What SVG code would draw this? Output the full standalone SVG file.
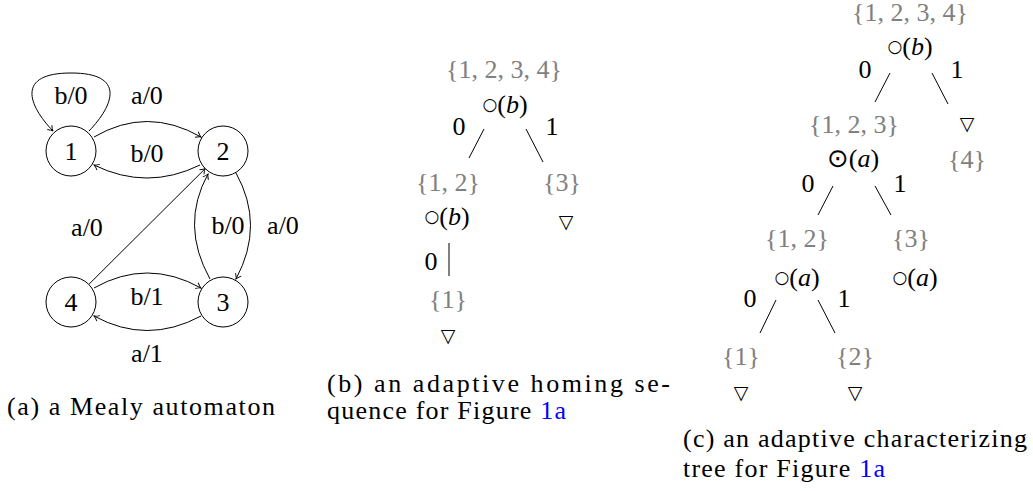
<svg xmlns="http://www.w3.org/2000/svg" width="1033" height="491" viewBox="0 0 1033 491">
<defs>
<style>
text{font-size:26px;fill:#000}
.t{text-anchor:middle}
.c{text-anchor:start}
.g{fill:#808080}
.i{font-style:italic}
.op{font-size:17px}
.od{font-size:26px}
.tri{font-size:19px;text-anchor:middle}
.e{fill:none;stroke:#000;stroke-width:1}
.n{fill:#fff;stroke:#000;stroke-width:1}
.lk{fill:#0000ff}
</style>
<marker id="arr" viewBox="-6 -4 7 8" refX="0" refY="0" markerWidth="7" markerHeight="8" markerUnits="userSpaceOnUse" orient="auto">
<path d="M-5,-3.2 Q-2,-0.6 0,0 Q-2,0.6 -5,3.2" fill="none" stroke="#000" stroke-width="0.9"/>
</marker>
</defs>
<g font-family="Liberation Serif">
<g id="edges-a">
<path class="e" marker-end="url(#arr)" d="M89,131 C114,105 126,73 71,73 C16,73 28,105 53,131"/>
<path class="e" marker-end="url(#arr)" d="M94,137 Q147,106 201,137"/>
<path class="e" marker-end="url(#arr)" d="M200,165 Q147,191 94,165"/>
<path class="e" marker-end="url(#arr)" d="M94,288 Q147,258 201,288"/>
<path class="e" marker-end="url(#arr)" d="M201,316 Q147,345 94,316"/>
<path class="e" marker-end="url(#arr)" d="M88.7,284.5 L205.3,168.5"/>
<path class="e" marker-end="url(#arr)" d="M210,279 Q180,225 208,174"/>
<path class="e" marker-end="url(#arr)" d="M236,173 Q265,225 236,279"/>
<text class="t" x="71" y="104">b/0</text>
<text class="t" x="147" y="104">a/0</text>
<text class="t" x="147" y="162">b/0</text>
<text class="t" x="87" y="236">a/0</text>
<text class="t" x="228" y="234">b/0</text>
<text class="t" x="283" y="234">a/0</text>
<text class="t" x="147" y="305">b/1</text>
<text class="t" x="147" y="362">a/1</text>
</g>
<g id="s1"><circle class="n" cx="71" cy="151" r="25"/><text class="t" x="71" y="160">1</text></g>
<g id="s2"><circle class="n" cx="223" cy="151" r="25"/><text class="t" x="223" y="160">2</text></g>
<g id="s3"><circle class="n" cx="223" cy="302" r="25"/><text class="t" x="223" y="311">3</text></g>
<g id="s4"><circle class="n" cx="71" cy="302" r="25"/><text class="t" x="71" y="311">4</text></g>
<text class="c" x="7" y="415" textLength="268" lengthAdjust="spacing">(a) a Mealy automaton</text>

<g id="edges-b">
<line class="e" x1="484" y1="129" x2="469" y2="158"/>
<line class="e" x1="526" y1="129" x2="543" y2="162"/>
<line class="e" x1="449" y1="243" x2="449" y2="276"/>
<text class="t" x="459" y="135">0</text>
<text class="t" x="552" y="135">1</text>
<text class="t" x="431" y="270">0</text>
</g>
<g id="b-root"><text class="t g" x="504" y="78">{1, 2, 3, 4}</text><text class="t" x="505" y="113"><tspan class="op" font-family="DejaVu Sans" dy="-3">○</tspan><tspan dy="3">(</tspan><tspan class="i">b</tspan>)</text></g>
<g id="b-12"><text class="t g" x="448" y="191">{1, 2}</text><text class="t" x="447" y="225"><tspan class="op" font-family="DejaVu Sans" dy="-3">○</tspan><tspan dy="3">(</tspan><tspan class="i">b</tspan>)</text></g>
<g id="b-3"><text class="t g" x="562" y="191">{3}</text><text class="tri" font-family="DejaVu Sans" x="566" y="228">▽</text></g>
<g id="b-1"><text class="t g" x="448" y="308">{1}</text><text class="tri" font-family="DejaVu Sans" x="448" y="342">▽</text></g>
<text class="c" x="327" y="392" textLength="343" lengthAdjust="spacing">(b) an adaptive homing se-</text>
<text class="c" x="327" y="419" textLength="239" lengthAdjust="spacing">quence for Figure <tspan class="lk">1a</tspan></text>

<g id="edges-c">
<line class="e" x1="890" y1="73" x2="875" y2="102"/>
<line class="e" x1="932" y1="73" x2="948" y2="104"/>
<line class="e" x1="833" y1="186" x2="818" y2="215"/>
<line class="e" x1="875" y1="186" x2="891" y2="215"/>
<line class="e" x1="776" y1="300" x2="760" y2="333"/>
<line class="e" x1="818" y1="300" x2="835" y2="333"/>
<text class="t" x="865" y="78">0</text>
<text class="t" x="957" y="78">1</text>
<text class="t" x="808" y="192">0</text>
<text class="t" x="900" y="192">1</text>
<text class="t" x="750" y="307">0</text>
<text class="t" x="844" y="307">1</text>
</g>
<g id="c-root"><text class="t g" x="910" y="21">{1, 2, 3, 4}</text><text class="t" x="910" y="55"><tspan class="op" font-family="DejaVu Sans" dy="-3">○</tspan><tspan dy="3">(</tspan><tspan class="i">b</tspan>)</text></g>
<g id="c-123"><text class="t g" x="854" y="133">{1, 2, 3}</text><text class="t" x="853" y="167"><tspan class="od" font-family="DejaVu Sans">⊙</tspan>(<tspan class="i">a</tspan>)</text></g>
<g id="c-4"><text class="tri" font-family="DejaVu Sans" x="967" y="130">▽</text><text class="t g" x="967" y="168">{4}</text></g>
<g id="c-12"><text class="t g" x="797" y="247">{1, 2}</text><text class="t" x="797" y="286"><tspan class="op" font-family="DejaVu Sans" dy="-3">○</tspan><tspan dy="3">(</tspan><tspan class="i">a</tspan>)</text></g>
<g id="c-3"><text class="t g" x="911" y="247">{3}</text><text class="t" x="915" y="286"><tspan class="op" font-family="DejaVu Sans" dy="-3">○</tspan><tspan dy="3">(</tspan><tspan class="i">a</tspan>)</text></g>
<g id="c-1"><text class="t g" x="741" y="365">{1}</text><text class="tri" font-family="DejaVu Sans" x="741" y="399">▽</text></g>
<g id="c-2"><text class="t g" x="855" y="365">{2}</text><text class="tri" font-family="DejaVu Sans" x="855" y="399">▽</text></g>
<text class="c" x="683" y="447" textLength="344" lengthAdjust="spacing">(c) an adaptive characterizing</text>
<text class="c" x="683" y="477" textLength="202" lengthAdjust="spacing">tree for Figure <tspan class="lk">1a</tspan></text>
</g>
</svg>
